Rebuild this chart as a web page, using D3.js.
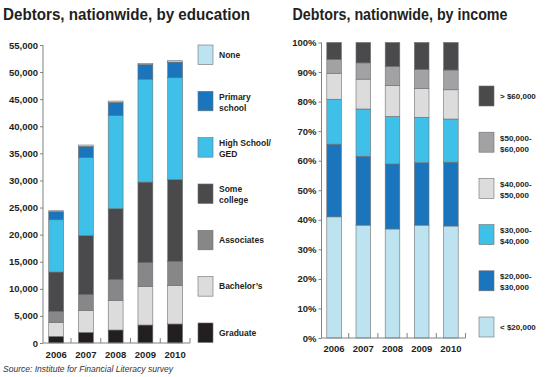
<!DOCTYPE html>
<html><head><meta charset="utf-8">
<script src="https://cdn.jsdelivr.net/npm/d3@7"></script>
<style>body{margin:0;background:#fff}svg{display:block}text{font-family:"Liberation Sans",Arial,sans-serif}</style>
</head><body><svg id="c" width="550" height="377"></svg>
<script>
const years = ["2006","2007","2008","2009","2010"];
// Education segments (bottom to top)
const eduKeys = ["Graduate","Bachelor's","Associates","Some college","High School/GED","Primary school","None"];
const graduate    = [1230, 1970, 2400, 3320, 3510];
const bachelors   = [2580, 4060, 5470, 7130, 7070];
const associates  = [2030, 2890, 3810, 4370, 4490];
const someCollege = [7260, 10890, 13100, 14880, 15070];
const highSchool  = [9650, 14450, 17220, 19000, 18820];
const primary     = [1480, 2030, 2400, 2710, 2890];
const none        = [180, 250, 250, 190, 250];
const eduTicks = [0,5000,10000,15000,20000,25000,30000,35000,40000,45000,50000,55000];
// Income shares (%) bottom to top
const incKeys = ["< $20,000","$20,000-$30,000","$30,000-$40,000","$40,000-$50,000","$50,000-$60,000","> $60,000"];
const incLt20  = [41.0, 38.2, 36.9, 38.2, 37.9];
const inc20_30 = [24.6, 23.3, 22.0, 21.1, 21.6];
const inc30_40 = [15.2, 16.0, 16.1, 15.4, 14.6];
const inc40_50 = [8.8, 10.1, 10.5, 9.7, 9.9];
const inc50_60 = [4.7, 5.5, 6.4, 6.5, 6.7];
const incGt60  = [5.7, 6.9, 8.1, 9.1, 9.3];
const incTicks = [0,10,20,30,40,50,60,70,80,90,100];

const eduColors = ["#231f20","#dcdcdd","#87878a","#4a4a4c","#3fc0e9","#1a75bc","#bde3f0"];
const incColors = ["#bde3f0","#1a75bc","#3fc0e9","#dcdcdd","#a2a2a4","#4a4a4c"];

const svg = d3.select("#c");
const ink = "#231f20", axisCol = "#808285";

// Titles
svg.append("text").attr("x",3).attr("y",19.5).attr("font-size",16.5).attr("font-weight","bold")
  .attr("fill",ink).attr("textLength",247).attr("lengthAdjust","spacingAndGlyphs")
  .text("Debtors, nationwide, by education");
svg.append("text").attr("x",292.5).attr("y",19.5).attr("font-size",16.5).attr("font-weight","bold")
  .attr("fill",ink).attr("textLength",215).attr("lengthAdjust","spacingAndGlyphs")
  .text("Debtors, nationwide, by income");
svg.append("text").attr("x",3).attr("y",372).attr("font-size",9).attr("font-style","italic")
  .attr("fill","#333").attr("textLength",170).attr("lengthAdjust","spacingAndGlyphs")
  .text("Source: Institute for Financial Literacy survey");

function drawChart(cfg){
  const {keys, series, colors, ticks, yDomain, yRange, axisX, xRange, axisEnd, fmt, labelY} = cfg;
  const data = years.map((y,i)=>{const o={year:y}; keys.forEach((k,j)=>o[k]=series[j][i]); return o;});
  const stack = d3.stack().keys(keys)(data);
  const y = d3.scaleLinear().domain(yDomain).range(yRange);
  const x = d3.scaleBand().domain(years).range(xRange).paddingInner(0.5).paddingOuter(0.25);
  const g = svg.append("g");
  stack.forEach((layer,j)=>{
    g.selectAll(null).data(layer).join("rect")
      .attr("x",d=>x(d.data.year)).attr("width",x.bandwidth())
      .attr("y",d=>y(d[1])).attr("height",d=>Math.max(0,y(d[0])-y(d[1])))
      .attr("fill",colors[j]).attr("stroke","#6d6e70").attr("stroke-width",0.6);
  });
  // y axis
  const ya = g.append("g").attr("transform",`translate(${axisX},0)`)
    .call(d3.axisLeft(y).tickValues(ticks).tickSize(3).tickPadding(2).tickFormat(fmt));
  ya.select(".domain").attr("stroke",axisCol).attr("d",`M0,${yRange[0]}V${yRange[1]}`);
  ya.selectAll(".tick line").attr("stroke",axisCol);
  ya.selectAll(".tick text").attr("font-size",9.5).attr("font-weight","bold").attr("fill",ink)
    .attr("font-family",'"Liberation Sans",Arial,sans-serif');
  // bottom axis line + up ticks at band boundaries
  const base = yRange[0];
  g.append("line").attr("x1",axisX).attr("x2",axisEnd).attr("y1",base).attr("y2",base).attr("stroke",axisCol);
  const step = x.step();
  years.forEach((yr,i)=>{
    const bx = x(yr) + x.bandwidth() + step*0.25;
    g.append("line").attr("x1",bx).attr("x2",bx).attr("y1",base).attr("y2",base-5).attr("stroke",axisCol);
  });
  g.selectAll(null).data(years).join("text")
    .attr("x",d=>x(d)+x.bandwidth()/2).attr("y",labelY).attr("text-anchor","middle")
    .attr("font-size",9.5).attr("font-weight","bold").attr("fill",ink).text(d=>d);
}

drawChart({keys:eduKeys, series:[graduate,bachelors,associates,someCollege,highSchool,primary,none],
  colors:eduColors, ticks:eduTicks, yDomain:[0,55000], yRange:[343,45], axisX:43,
  xRange:[41.3,190], axisEnd:190, fmt:d3.format(","), labelY:358});
drawChart({keys:incKeys, series:[incLt20,inc20_30,inc30_40,inc40_50,inc50_60,incGt60],
  colors:incColors, ticks:incTicks, yDomain:[0,100], yRange:[338,42.5], axisX:321.5,
  xRange:[319.5,465.5], axisEnd:465.5, fmt:d=>d+"%", labelY:352});

// Legends
function legend(items, x0, top0, stepY, w, h, tx, fs){
  items.forEach((it,i)=>{
    const t = top0 + i*stepY;
    svg.append("rect").attr("x",x0).attr("y",t).attr("width",w).attr("height",h)
      .attr("fill",it.color).attr("stroke","#6d6e70").attr("stroke-width",0.6);
    const txt = svg.append("text").attr("x",tx).attr("font-size",fs).attr("font-weight","bold").attr("fill",ink);
    if(it.lines.length===1){
      txt.attr("y",t+h/2+3).text(it.lines[0]);
    } else {
      txt.append("tspan").attr("x",tx).attr("y",t+8.5).text(it.lines[0]);
      txt.append("tspan").attr("x",tx).attr("y",t+19.5).text(it.lines[1]);
    }
  });
}
const eduLegend = [
  {lines:["None"], color:eduColors[6]},
  {lines:["Primary","school"], color:eduColors[5]},
  {lines:["High School/","GED"], color:eduColors[4]},
  {lines:["Some","college"], color:eduColors[3]},
  {lines:["Associates"], color:eduColors[2]},
  {lines:["Bachelor\u2019s"], color:eduColors[1]},
  {lines:["Graduate"], color:eduColors[0]}
];
legend(eduLegend, 198, 45, 46.33, 15, 19.5, 219, 8.5);
const incLegend = [
  {lines:["> $60,000"], color:incColors[5]},
  {lines:["$50,000-","$60,000"], color:incColors[4]},
  {lines:["$40,000-","$50,000"], color:incColors[3]},
  {lines:["$30,000-","$40,000"], color:incColors[2]},
  {lines:["$20,000-","$30,000"], color:incColors[1]},
  {lines:["< $20,000"], color:incColors[0]}
];
legend(incLegend, 479, 86, 46.2, 15, 20, 500, 8);
</script></body></html>
